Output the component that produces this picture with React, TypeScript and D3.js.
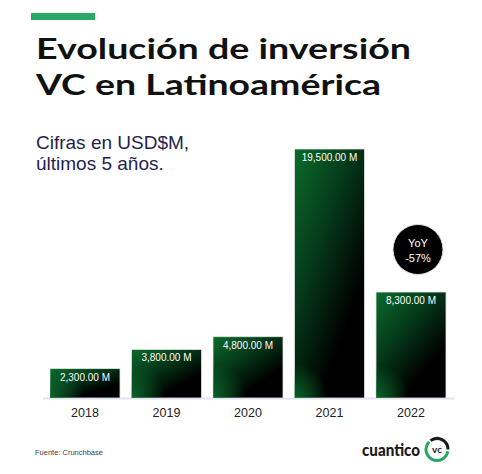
import React from 'react';
import * as d3 from 'd3';

// annual VC investment in Latin America, USD millions
const years = ['2018', '2019', '2020', '2021', '2022'];
const amounts = [2300, 3800, 4800, 19500, 8300];
const valueLabels = ['2,300.00 M', '3,800.00 M', '4,800.00 M', '19,500.00 M', '8,300.00 M'];
const yoyLabel = ['YoY', '-57%'];

const W = 482;
const H = 474;

const App = () => {
  const x = d3.scaleBand<string>()
    .domain(years)
    .range([50, 446])
    .paddingInner(0.141)
    .paddingOuter(0);

  const y = d3.scaleLinear()
    .domain([0, 19500])
    .range([398, 149]);

  const data = years.map((yr, i) => ({ yr, v: amounts[i], label: valueLabels[i] }));
  const last = data[data.length - 1];

  // green / black logo ring
  const ring = d3.arc();
  const greenArc = ring({ innerRadius: 9.5, outerRadius: 12.5, startAngle: Math.PI * 0.55, endAngle: Math.PI * 1.75 }) as string;
  const blackArc = ring({ innerRadius: 9.5, outerRadius: 12.5, startAngle: -Math.PI * 0.2, endAngle: Math.PI * 0.5 }) as string;

  return (
    <div style={{ position: 'absolute', left: 0, top: 0 }}>
      <svg width={W} height={H} style={{ display: 'block', background: '#fff' }}>
        <defs>
          <linearGradient id="barFill" x1="0" y1="0" x2="0.8" y2="1">
            <stop offset="0" stopColor="#0b6b2c" />
            <stop offset="0.4" stopColor="#053a1a" />
            <stop offset="0.8" stopColor="#000" />
            <stop offset="1" stopColor="#000" />
          </linearGradient>
          {data.map((d, i) => (
            <radialGradient key={d.yr} id={`glow${i}`} gradientUnits="userSpaceOnUse"
              cx={x(d.yr)!} cy={y(0)} r={34}>
              <stop offset="0" stopColor="#0d7a32" stopOpacity={0.75} />
              <stop offset="1" stopColor="#0d7a32" stopOpacity={0} />
            </radialGradient>
          ))}
        </defs>

        <rect x={31} y={13} width={64} height={7} fill="#2aa866" />

        <g fontFamily="Lato, 'Open Sans', sans-serif" fontWeight={700} fill="#111">
          <text x={36} y={59} fontSize={29} textLength={375} lengthAdjust="spacingAndGlyphs">Evolución de inversión</text>
          <text x={36} y={95} fontSize={29} textLength={345} lengthAdjust="spacingAndGlyphs">VC en Latinoamérica</text>
        </g>

        <g fontFamily="'Liberation Sans', Arial, sans-serif" fontSize={19} fill="#231f4f">
          <text x={36} y={149}>Cifras en USD$M,</text>
          <text x={36} y={170}>últimos 5 años.</text>
        </g>

        <line x1={43} x2={454} y1={398.5} y2={398.5} stroke="#e4e2f4" strokeWidth={2} />

        {data.map((d, i) => (
          <g key={d.yr}>
            <rect x={x(d.yr)} y={y(d.v)} width={x.bandwidth()} height={y(0) - y(d.v)}
              fill="url(#barFill)" stroke="#dfe6e0" strokeWidth={0.8} />
            <rect x={x(d.yr)} y={y(d.v)} width={x.bandwidth()} height={y(0) - y(d.v)}
              fill={`url(#glow${i})`} />
            <text x={x(d.yr)! + x.bandwidth() / 2} y={y(d.v) + 12} textAnchor="middle"
              fontFamily="'Liberation Sans', Arial, sans-serif" fontSize={10} fill="#fff">{d.label}</text>
            <text x={x(d.yr)! + x.bandwidth() / 2} y={417} textAnchor="middle"
              fontFamily="'Liberation Sans', Arial, sans-serif" fontSize={12.5} fill="#222">{d.yr}</text>
          </g>
        ))}

        <g transform={`translate(${x(last.yr)! + x.bandwidth() / 2 + 7},${249.5})`}>
          <circle r={25} fill="#000" stroke="#ddd" strokeWidth={1} />
          <text y={-3} textAnchor="middle" fontFamily="'Liberation Sans', Arial, sans-serif" fontSize={11} fill="#fff">{yoyLabel[0]}</text>
          <text y={12} textAnchor="middle" fontFamily="'Liberation Sans', Arial, sans-serif" fontSize={11} fill="#fff">{yoyLabel[1]}</text>
        </g>

        <text x={35} y={455} fontFamily="'Liberation Sans', Arial, sans-serif" fontSize={7.5} fill="#444">Fuente: Crunchbase</text>

        <text x={362} y={456} fontFamily="Lato, sans-serif" fontWeight={900} fontSize={17}
          textLength={58} lengthAdjust="spacingAndGlyphs" fill="#1a1a1a">cuantico</text>
        <g transform="translate(437,449.5)">
          <path d={greenArc} fill="#22a862" />
          <path d={blackArc} fill="#1a1a1a" />
          <text y={3.5} textAnchor="middle" fontFamily="Lato, sans-serif" fontWeight={700} fontSize={10} fill="#1a1a1a">vc</text>
        </g>
      </svg>
    </div>
  );
};

export default App;
